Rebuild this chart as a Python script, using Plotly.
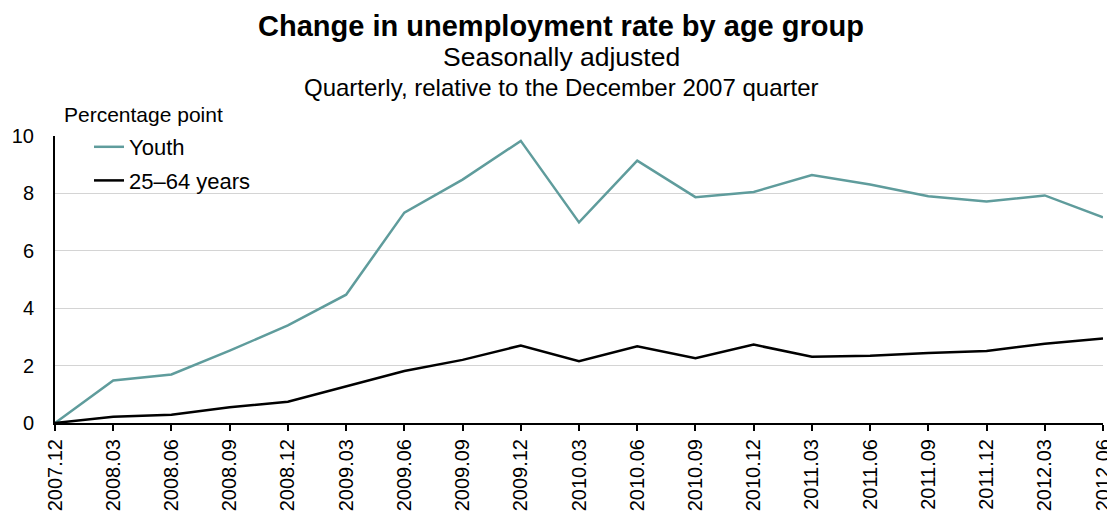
import plotly.graph_objects as go

quarters = ["2007.12", "2008.03", "2008.06", "2008.09", "2008.12", "2009.03", "2009.06",
            "2009.09", "2009.12", "2010.03", "2010.06", "2010.09", "2010.12", "2011.03",
            "2011.06", "2011.09", "2011.12", "2012.03", "2012.06"]
youth = [0, 1.48, 1.69, 2.52, 3.40, 4.47, 7.33, 8.48, 9.83, 6.99, 9.14, 7.87, 8.05,
         8.64, 8.31, 7.90, 7.72, 7.93, 7.17]
adults = [0, 0.22, 0.29, 0.55, 0.74, 1.28, 1.81, 2.20, 2.70, 2.15, 2.67, 2.26, 2.73,
          2.31, 2.34, 2.44, 2.51, 2.76, 2.94]
y_ticks = [0, 2, 4, 6, 8, 10]

FONT = "Liberation Sans, Arial, sans-serif"
OFF = 8  # page body margin offset
W, H = 1115 - OFF, 514 - OFF
ML, MR, MT, MB = 55 - OFF, 12, 136 - OFF, 91
PW = W - ML - MR
PH = H - MT - MB

fig = go.Figure()
fig.add_trace(go.Scatter(x=quarters, y=youth, mode="lines", name="Youth",
                         line=dict(color="#5f9c9c", width=2.5), legendgroup="a"))
fig.add_trace(go.Scatter(x=quarters, y=adults, mode="lines", name="25–64 years",
                         line=dict(color="#000000", width=2.5), legendgroup="b"))

def py(win_y):
    return 1 + (136 - win_y) / PH

def px(win_x):
    return (win_x - 55) / PW

fig.update_layout(
    width=W, height=H,
    margin=dict(l=ML, r=MR, t=MT, b=MB, autoexpand=False),
    paper_bgcolor="white", plot_bgcolor="white",
    font=dict(family=FONT, size=20, color="black"),
    title=dict(text="<b>Change in unemployment rate by age group</b>",
               x=px(561), xanchor="center", xref="paper", y=1 - (26 - OFF) / H,
               yanchor="middle",
               font=dict(size=29, family=FONT, color="black")),
    showlegend=True,
    legend=dict(x=px(89), y=py(126), xanchor="left", yanchor="top",
                bgcolor="rgba(0,0,0,0)", font=dict(size=22, family=FONT),
                tracegroupgap=2),
    annotations=[
        dict(text="Seasonally adjusted", xref="paper", yref="paper", x=px(561), y=py(57),
             xanchor="center", yanchor="middle", showarrow=False,
             font=dict(size=26.5, family=FONT)),
        dict(text="Quarterly, relative to the December 2007 quarter", xref="paper",
             yref="paper", x=px(561), y=py(87), xanchor="center", yanchor="middle",
             showarrow=False, font=dict(size=24, family=FONT)),
        dict(text="Percentage point", xref="paper", yref="paper", x=px(62),
             y=py(115), xanchor="left", yanchor="middle", showarrow=False,
             font=dict(size=21, family=FONT)),
    ],
)
fig.update_xaxes(type="category", range=[0, len(quarters) - 1], tickangle=-90,
                 showline=True, linecolor="black", linewidth=2, ticks="outside",
                 ticklen=6, tickwidth=2, tickcolor="black", showgrid=False,
                 tickfont=dict(size=20, family=FONT), zeroline=False, automargin=False)
fig.update_yaxes(range=[0, 10], tickvals=y_ticks, showline=True, linecolor="black",
                 linewidth=2, ticks="", showgrid=True, gridcolor="#d4d4d4", gridwidth=1,
                 tickfont=dict(size=20, family=FONT), zeroline=False, ticklabelstandoff=15,
                 automargin=False)

fig.write_html("out.html")
